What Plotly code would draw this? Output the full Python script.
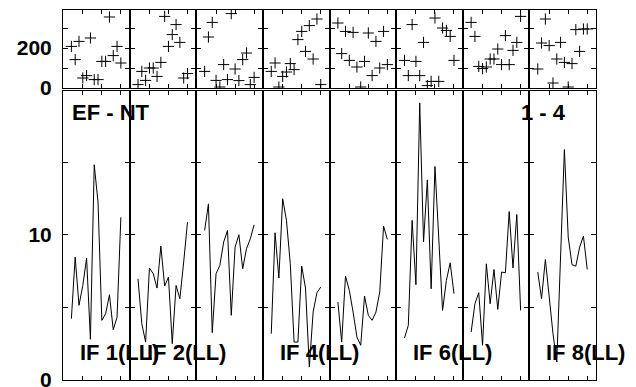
import plotly.graph_objects as go
from plotly.subplots import make_subplots

# ---- data -------------------------------------------------------------
channels = list(range(2, 16))  # 14 plotted channels per IF

if_labels = ["IF 1(LL)", "IF 2(LL)", "", "IF 4(LL)", "", "IF 6(LL)", "", "IF 8(LL)"]

phase_if1 = [208, 142, 233, 50, 62, 250, 42, 42, 133, 133, 355, 162, 208, 125]
phase_if2 = [17, 83, 38, 100, 100, 58, 128, 358, 208, 267, 317, 228, 50, 72]
phase_if3 = [83, 255, 328, 38, 5, 117, 42, 372, 95, 37, 142, 175, 17, 53]
phase_if4 = [83, 125, 5, 58, 80, 122, 92, 242, 283, 183, 312, 145, 345, 17]
phase_if5 = [325, 172, 283, 138, 278, 105, 5, 133, 275, 62, 233, 100, 283, 117]
phase_if6 = [138, 62, 317, 133, 62, 228, 12, 33, 350, 33, 300, 288, 258, 138]
phase_if7 = [328, 258, 108, 97, 105, 145, 145, 195, 117, 262, 117, 188, 228, 358]
phase_if8 = [95, 225, 345, 212, 25, 145, 228, 128, 5, 122, 292, 183, 295, 295]

amp_if1 = [4.22, 8.46, 5.14, 6.51, 8.39, 2.80, 14.82, 12.25, 4.11, 4.56, 5.87, 3.46, 4.33, 11.2]
amp_if2 = [6.97, 3.88, 2.61, 7.71, 7.32, 6.33, 9.22, 6.47, 7.09, 2.50, 6.51, 5.60, 8.12, 10.87]
amp_if3 = [10.30, 12.13, 3.26, 7.32, 7.89, 9.50, 10.30, 4.45, 9.15, 10.0, 7.66, 9.04, 9.72, 10.69]
amp_if4 = [3.19, 10.14, 7.02, 12.48, 10.99, 8.0, 2.61, 2.61, 7.84, 6.33, 0.89, 4.68, 6.01, 6.40]
amp_if5 = [5.37, 2.61, 7.16, 6.17, 4.68, 2.96, 2.39, 5.78, 4.45, 4.11, 4.68, 6.06, 10.6, 9.68]
amp_if6 = [2.89, 3.76, 10.99, 6.56, 19.08, 9.50, 13.78, 6.28, 14.70, 9.72, 4.79, 6.86, 8.07, 5.94]
amp_if7 = [3.30, 5.25, 6.01, 2.39, 8.0, 5.25, 7.61, 4.86, 7.43, 7.39, 11.6, 7.71, 11.4, 4.79]
amp_if8 = [7.43, 5.60, 8.30, 5.6, 3.2, 1.24, 8.6, 15.87, 9.84, 7.94, 7.84, 9.15, 9.91, 7.61]

phase_ticks = [0, 100, 200, 300]
phase_ticktext = ["0", "", "200", ""]
amp_ticks = [0, 5, 10, 15]
amp_ticktext = ["0", "", "10", ""]
x_ticks = [5, 10, 15]

title_left = "EF - NT"
title_right = "1 - 4"

phases = [phase_if1, phase_if2, phase_if3, phase_if4, phase_if5, phase_if6, phase_if7, phase_if8]
amps = [amp_if1, amp_if2, amp_if3, amp_if4, amp_if5, amp_if6, amp_if7, amp_if8]

# ---- figure -----------------------------------------------------------
FONT = "Liberation Sans, Arial, Helvetica, sans-serif"
n = len(phases)
fig = make_subplots(rows=2, cols=n, horizontal_spacing=0, vertical_spacing=0.01)

for i in range(n):
    fig.add_trace(go.Scatter(
        x=channels, y=phases[i], mode="markers",
        marker=dict(symbol="cross-thin", size=8, color="black",
                    line=dict(color="black", width=1)),
        showlegend=False, hoverinfo="skip"), row=1, col=i + 1)
    fig.add_trace(go.Scatter(
        x=channels, y=amps[i], mode="lines",
        line=dict(color="black", width=1),
        showlegend=False, hoverinfo="skip"), row=2, col=i + 1)

axis_common = dict(showgrid=False, zeroline=False, showline=True,
                   linecolor="black", linewidth=1, mirror="ticks",
                   ticks="inside", tickcolor="black", tickwidth=1,
                   automargin=False)

for i in range(n):
    for r in (1, 2):
        fig.update_xaxes(range=[-0.2, 17.3], tickvals=x_ticks, ticklen=4,
                         showticklabels=False, row=r, col=i + 1, **axis_common)
    fig.update_yaxes(range=[0, 390], tickvals=phase_ticks, ticktext=phase_ticktext,
                     ticklen=5, showticklabels=(i == 0),
                     domain=[0.7892, 1.0], row=1, col=i + 1, **axis_common)
    fig.update_yaxes(range=[0, 19.9], tickvals=amp_ticks, ticktext=amp_ticktext,
                     ticklen=5, showticklabels=(i == 0),
                     domain=[0.0, 0.7811], row=2, col=i + 1, **axis_common)

fig.update_yaxes(tickfont=dict(family=FONT, size=21, color="black", weight="bold"),
                 ticklabelstandoff=6, ticklabeloverflow="allow", col=1)

ann_font = dict(family=FONT, size=22, color="black", weight="bold")
annotations = [
    dict(text=title_left, xref="x9 domain", x=0.1, xanchor="left",
         yref="y9", y=18.45, yanchor="middle", showarrow=False, font=ann_font),
    dict(text=title_right, xref="x16 domain", x=0.58, xanchor="right",
         yref="y16", y=18.45, yanchor="middle", showarrow=False, font=ann_font),
]
for i, lab in enumerate(if_labels):
    if lab:
        annotations.append(dict(text=lab, xref=f"x{n + i + 1} domain", x=0.225,
                                xanchor="left", yref=f"y{n + i + 1}", y=1.9,
                                yanchor="middle", showarrow=False, font=ann_font))

fig.update_layout(
    width=636, height=387,
    margin=dict(l=63, r=40, t=10, b=7, autoexpand=False),
    paper_bgcolor="white", plot_bgcolor="white",
    annotations=annotations,
    showlegend=False,
)

fig.write_html("out.html", config={"displayModeBar": False},
               post_script="document.body.style.margin='0px';document.body.style.overflow='hidden';")
